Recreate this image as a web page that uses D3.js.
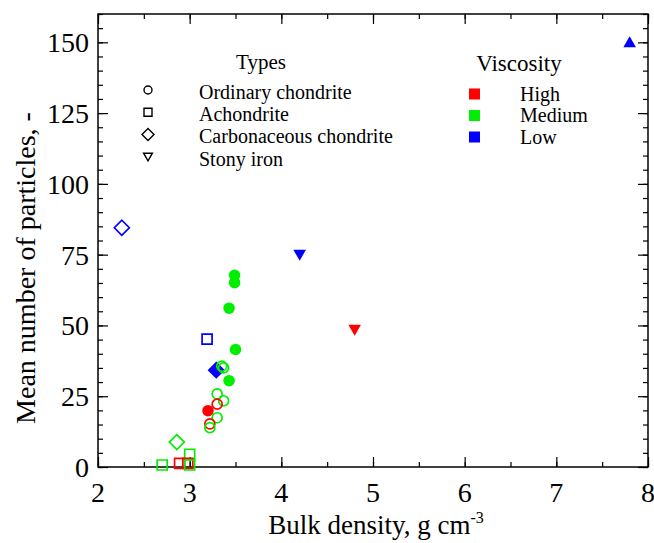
<!DOCTYPE html>
<html>
<head>
<meta charset="utf-8">
<script src="https://cdn.jsdelivr.net/npm/d3@7"></script>
<style>
  body { margin: 0; background: #fff; }
</style>
</head>
<body>
<svg id="chart" width="654" height="543"></svg>
<script>
// Data: density, particles, type, viscosity, filled
const xTicks = [2, 3, 4, 5, 6, 7, 8];
const yTicks = [0, 25, 50, 75, 100, 125, 150];

const types = ["Ordinary chondrite", "Achondrite", "Carbonaceous chondrite", "Stony iron"];
const viscosities = ["High", "Medium", "Low"];

const density = [2.26, 4.2, 4.8, 7.8, 3.49, 3.49, 3.43, 3.50, 3.43, 3.19, 3.29, 3.35, 3.37,
                 3.30, 3.37, 3.30, 3.20, 3.30, 3.22, 3.22, 2.86, 3.0, 2.70, 2.89, 2.98, 3.0];
const particles = [84.5, 75, 48.5, 150, 67.7, 65.1, 56.1, 41.5, 30.5, 45.2, 34.2, 35.6, 35.0,
                   25.8, 23.4, 22.2, 19.9, 17.4, 15.2, 13.9, 8.8, 4.5, 0.7, 1.3, 1.3, 0.7];
const pointType = ["Carbonaceous chondrite", "Stony iron", "Stony iron", "Stony iron up",
                   "Ordinary chondrite", "Ordinary chondrite", "Ordinary chondrite", "Ordinary chondrite", "Ordinary chondrite",
                   "Achondrite", "Carbonaceous chondrite", "Ordinary chondrite", "Ordinary chondrite",
                   "Ordinary chondrite", "Ordinary chondrite", "Ordinary chondrite", "Ordinary chondrite", "Ordinary chondrite",
                   "Ordinary chondrite", "Ordinary chondrite", "Carbonaceous chondrite", "Achondrite", "Achondrite",
                   "Achondrite", "Achondrite", "Achondrite"];
const pointViscosity = ["Low", "Low", "High", "Low",
                        "Medium", "Medium", "Medium", "Medium", "Medium",
                        "Low", "Low", "Medium", "Medium",
                        "Medium", "Medium", "High", "High", "Medium",
                        "High", "Medium", "Medium", "Medium", "Medium",
                        "High", "High", "Medium"];
const pointFilled = [false, true, true, true,
                     true, true, true, true, true,
                     false, true, false, false,
                     false, false, false, true, false,
                     false, false, false, false, false,
                     false, false, false];

const colorOf = { High: "#ff0000", Medium: "#00ee00", Low: "#0000ff" };
const FONT = "'Liberation Serif'";

const svg = d3.select("#chart");
const W = 654, H = 543;
const m = { top: 14, right: 6, bottom: 76, left: 98 };
const pw = W - m.left - m.right, ph = H - m.top - m.bottom;

const x = d3.scaleLinear().domain([2, 8]).range([m.left, m.left + pw]);
const y = d3.scaleLinear().domain([0, 160]).range([m.top + ph, m.top]);

// symbol path builders (size in px)
function circlePath(r) {
  return `M${r},0A${r},${r} 0 1,1 ${-r},0A${r},${r} 0 1,1 ${r},0Z`;
}
function shapePath(t, s) {
  const h = s / 2;
  if (t === "Ordinary chondrite") return circlePath(h);
  if (t === "Achondrite") return `M${-h},${-h}H${h}V${h}H${-h}Z`;
  if (t === "Carbonaceous chondrite") { const d = h * 1.5; return `M0,${-d}L${d},0L0,${d}L${-d},0Z`; }
  if (t === "Stony iron") return `M${-h * 1.1},${-h * 0.85}H${h * 1.1}L0,${h * 1.05}Z`;
  if (t === "Stony iron up") return `M${-h * 1.1},${h * 0.85}H${h * 1.1}L0,${-h * 1.05}Z`;
}

// axes with inward ticks on all four sides
const g = svg.append("g");
function tickAxis(axis, tf) {
  return g.append("g").attr("transform", tf).call(axis)
    .call(s => s.select(".domain").remove())
    .call(s => s.selectAll("line").attr("stroke", "#000").attr("stroke-width", 1.2));
}
const xMinor = d3.range(2, 8.01, 0.5);
const yMinor = d3.range(0, 160.1, 5);
tickAxis(d3.axisTop(x).tickValues(xMinor).tickSize(5).tickFormat(""), `translate(0,${m.top + ph})`);
tickAxis(d3.axisTop(x).tickValues(xTicks).tickSize(10).tickFormat(""), `translate(0,${m.top + ph})`);
tickAxis(d3.axisBottom(x).tickValues(xMinor).tickSize(5).tickFormat(""), `translate(0,${m.top})`);
tickAxis(d3.axisBottom(x).tickValues(xTicks).tickSize(10).tickFormat(""), `translate(0,${m.top})`);
tickAxis(d3.axisRight(y).tickValues(yMinor).tickSize(5).tickFormat(""), `translate(${m.left},0)`);
tickAxis(d3.axisRight(y).tickValues(yTicks).tickSize(10).tickFormat(""), `translate(${m.left},0)`);
tickAxis(d3.axisLeft(y).tickValues(yMinor).tickSize(5).tickFormat(""), `translate(${m.left + pw},0)`);
tickAxis(d3.axisLeft(y).tickValues(yTicks).tickSize(10).tickFormat(""), `translate(${m.left + pw},0)`);

g.append("rect").attr("x", m.left).attr("y", m.top).attr("width", pw).attr("height", ph)
  .attr("fill", "none").attr("stroke", "#000").attr("stroke-width", 1.5);

// tick labels
g.selectAll(".xl").data(xTicks).join("text")
  .attr("x", d => x(d)).attr("y", m.top + ph + 35)
  .style("font-family", FONT)
  .attr("text-anchor", "middle").attr("font-size", 28).text(d => d);
g.selectAll(".yl").data(yTicks).join("text")
  .attr("x", m.left - 9).attr("y", d => y(d) + 10)
  .style("font-family", FONT)
  .attr("text-anchor", "end").attr("font-size", 28).text(d => d);

// axis titles
const xt = svg.append("text").attr("x", 376).attr("y", 534)
  .style("font-family", FONT)
  .attr("text-anchor", "middle").attr("font-size", 27);
xt.append("tspan").text("Bulk density, g cm");
xt.append("tspan").attr("font-size", 16).attr("dy", -11).text("-3");

svg.append("text").attr("transform", `translate(35,268) rotate(-90)`)
  .style("font-family", FONT)
  .attr("text-anchor", "middle").attr("font-size", 28).text("Mean number of particles, -");

// points
const pts = density.map((d, i) => ({ x: d, y: particles[i], t: pointType[i], v: pointViscosity[i], f: pointFilled[i] }));
svg.append("g").selectAll("path").data(pts).join("path")
  .attr("transform", d => `translate(${x(d.x)},${y(d.y)})`)
  .attr("d", d => shapePath(d.t, d.f ? 11.5 : 10))
  .attr("fill", d => d.f ? colorOf[d.v] : "none")
  .attr("stroke", d => d.f ? "none" : colorOf[d.v])
  .attr("stroke-width", 1.7);

// legends
const lg = svg.append("g");
lg.append("text").attr("x", 261).attr("y", 69).style("font-family", FONT)
  .attr("text-anchor", "middle").attr("font-size", 21).text("Types");
types.forEach((t, i) => {
  const yy = 90 + i * 22.2;
  lg.append("path").attr("transform", `translate(148,${yy})`).attr("d", shapePath(t, 8))
    .attr("fill", "none").attr("stroke", "#000").attr("stroke-width", 1.4);
  lg.append("text").attr("x", 199).attr("y", yy + 9).style("font-family", FONT)
    .attr("font-size", 20).text(t);
});
lg.append("text").attr("x", 519).attr("y", 71).style("font-family", FONT)
  .attr("text-anchor", "middle").attr("font-size", 23).text("Viscosity");
viscosities.forEach((v, i) => {
  const yy = 94 + i * 21.5;
  lg.append("rect").attr("x", 469).attr("y", yy - 5.5).attr("width", 11).attr("height", 11).attr("fill", colorOf[v]);
  lg.append("text").attr("x", 520).attr("y", yy + 6.5).style("font-family", FONT)
    .attr("font-size", 20).text(v);
});
</script>
</body>
</html>
